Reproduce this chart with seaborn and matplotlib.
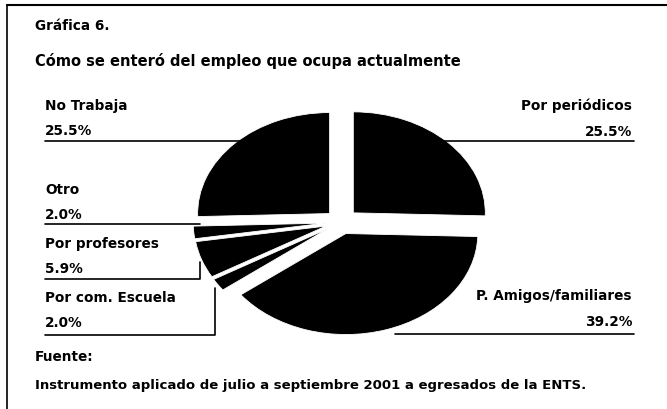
import matplotlib.pyplot as plt
import seaborn as sns

# datos de la gráfica (sentido horario desde las 12)
categorias = ['Por periódicos', 'P. Amigos/familiares', 'Por com. Escuela',
              'Por profesores', 'Otro', 'No Trabaja']
porcentajes = [25.5, 39.2, 2.0, 5.9, 2.0, 25.5]
etiquetas_pct = ['25.5%', '39.2%', '2.0%', '5.9%', '2.0%', '25.5%']

sns.set_theme(style='white')
plt.rcParams['font.family'] = ['DejaVu Sans']

fig = plt.figure(figsize=(6.67, 4.09), dpi=100)

# pastel (elíptico, como en el escaneo)
ax = fig.add_axes([0, 0, 1, 1])
ax.pie(porcentajes, startangle=90, counterclock=False,
       explode=[0.13, 0.12, 0.12, 0.12, 0.12, 0.12],
       colors=['black'] * len(porcentajes),
       wedgeprops=dict(edgecolor='white', linewidth=0.6))
ax.set_aspect('auto')
cx, cy, rx, ry = 341, 222, 132, 101
ax.set_xlim(-cx / rx, (667 - cx) / rx)
ax.set_ylim((cy - 409) / ry, cy / ry)
ax.axis('off')

# capa de textos en pixeles
ax2 = fig.add_axes([0, 0, 1, 1])
ax2.set_xlim(0, 667)
ax2.set_ylim(409, 0)
ax2.axis('off')
ax2.patch.set_alpha(0)

txt = dict(fontsize=9.8, fontweight='bold', color='black', va='center')

ax2.text(35, 26, 'Gráfica 6.', **txt)
ax2.text(35, 61, 'Cómo se enteró del empleo que ocupa actualmente',
         **{**txt, 'fontsize': 10.5})

# etiquetas izquierda
izq = {'No Trabaja': 106, 'Otro': 190, 'Por profesores': 244, 'Por com. Escuela': 298}
for cat, y in izq.items():
    i = categorias.index(cat)
    ax2.text(45, y, cat, **txt)
    ax2.text(45, y + 25, etiquetas_pct[i], **txt)

# etiquetas derecha
der = {'Por periódicos': 106, 'P. Amigos/familiares': 296}
for cat, y in der.items():
    i = categorias.index(cat)
    ax2.text(632, y, cat, ha='right', **txt)
    ax2.text(632, y + 26, etiquetas_pct[i], ha='right', **txt)

lw = 1.2
ax2.plot([45, 260], [141, 141], color='black', lw=lw)
ax2.plot([45, 200], [224, 224], color='black', lw=lw)
ax2.plot([45, 200, 200], [279, 279, 262], color='black', lw=lw)
ax2.plot([45, 215, 215], [335, 335, 288], color='black', lw=lw)
ax2.plot([420, 634], [141, 141], color='black', lw=lw)
ax2.plot([395, 634], [334, 334], color='black', lw=lw)

ax2.text(35, 357, 'Fuente:', **txt)
ax2.text(35, 385, 'Instrumento aplicado de julio a septiembre 2001 a egresados de la ENTS.',
         **{**txt, 'fontsize': 9.5})

# marco
ax2.plot([7, 7], [5, 409], color='black', lw=1.2)
ax2.plot([7, 667], [5, 5], color='black', lw=1.5)

fig.savefig('out.png', dpi=100)
